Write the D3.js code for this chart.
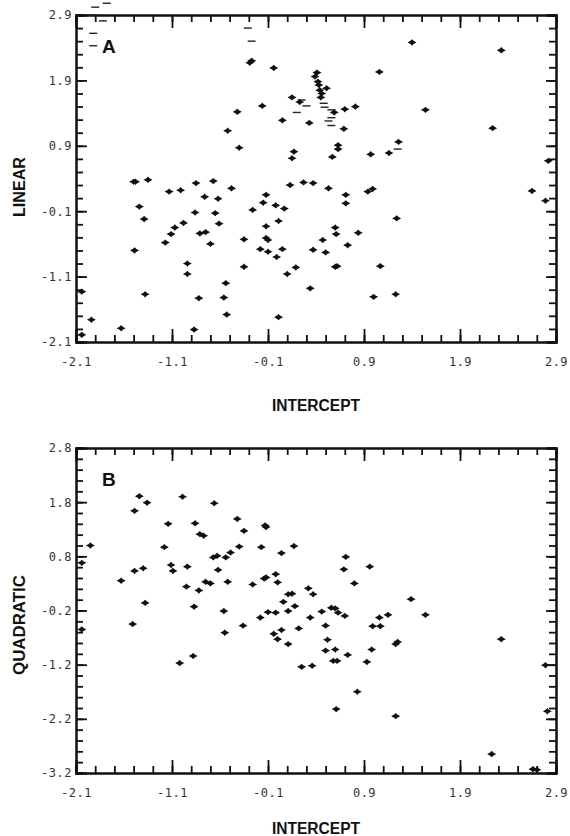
<!DOCTYPE html>
<html>
<head>
<meta charset="utf-8">
<script src="https://cdn.jsdelivr.net/npm/d3@7"></script>
<style>
  body { margin: 0; background: #fff; }
  .tick text { font-family: "DejaVu Sans Mono", monospace; font-size: 12px; fill: #333; letter-spacing: 0.5px; }
  .title { font-family: "Liberation Sans", Arial, sans-serif; font-weight: bold; font-size: 16px; fill: #111; }
</style>
</head>
<body>
<div id="chart"></div>
<script>
// tick labels
const xMajor = [-2.1, -1.1, -0.1, 0.9, 1.9, 2.9];
const yMajorA = [-2.1, -1.1, -0.1, 0.9, 1.9, 2.9];
const yMajorB = [-3.2, -2.2, -1.2, -0.2, 0.8, 1.8, 2.8];

// panel A: intercept vs linear
const pointsA = [
  [-0.27, 2.20], [-0.29, 2.17], [-0.04, 2.09], [-0.42, 1.42], [-0.16, 1.51], [-0.52, 1.13],
  [-0.40, 0.87], [0.05, 1.29], [1.40, 2.48], [2.33, 2.36], [1.06, 2.03], [0.41, 2.02],
  [0.39, 1.96], [0.42, 1.88], [0.43, 1.83], [0.44, 1.75], [0.46, 1.70], [0.45, 1.64],
  [0.51, 1.78], [0.15, 1.64], [0.23, 1.57], [0.33, 1.25], [0.59, 1.41], [0.70, 1.46],
  [0.81, 1.50], [1.54, 1.45], [0.69, 1.16], [2.24, 1.17], [0.63, 0.91], [0.63, 0.85],
  [0.17, 0.81], [0.15, 0.71], [0.57, 0.73], [0.97, 0.77], [1.16, 0.79], [1.26, 0.96],
  [2.82, 0.67], [-1.50, 0.35], [-1.48, 0.35], [-1.35, 0.38], [-1.44, -0.03], [-1.39, -0.22],
  [-1.49, -0.70], [-1.38, -1.37], [-2.04, -1.33], [-1.94, -1.76], [-2.04, -1.99], [-1.63, -1.89],
  [-1.13, 0.20], [-1.01, 0.22], [-0.85, 0.33], [-0.67, 0.36], [-0.76, 0.12], [-0.62, 0.09],
  [-0.48, 0.25], [-0.86, -0.12], [-0.65, -0.13], [-0.61, -0.29], [-0.98, -0.28], [-1.07, -0.35],
  [-1.11, -0.45], [-1.17, -0.58], [-0.81, -0.44], [-0.75, -0.42], [-0.70, -0.60], [-0.94, -0.90],
  [-0.94, -1.06], [-0.82, -1.43], [-0.87, -1.91], [-0.54, -1.20], [-0.56, -1.42], [-0.53, -1.68],
  [-0.35, -0.95], [-0.35, -0.53], [-0.26, -0.08], [-0.12, 0.15], [-0.15, 0.03], [-0.12, -0.33],
  [-0.12, -0.51], [-0.10, -0.54], [-0.18, -0.68], [-0.10, -0.72], [-0.02, -0.01], [0.07, -0.06],
  [0.01, -0.25], [0.05, -0.68], [-0.01, -0.80], [0.10, -1.06], [0.01, -1.72], [0.13, 0.30],
  [0.27, 0.34], [0.37, 0.33], [0.53, 0.25], [0.71, 0.15], [0.71, 0.02], [0.94, 0.20],
  [0.99, 0.24], [1.24, -0.21], [0.60, -0.35], [0.61, -0.45], [0.84, -0.43], [0.47, -0.54],
  [0.73, -0.62], [0.37, -0.69], [0.50, -0.73], [0.19, -0.96], [0.60, -0.95], [0.62, -0.94],
  [1.07, -0.94], [0.34, -1.28], [1.00, -1.41], [1.23, -1.37], [2.65, 0.21], [2.79, 0.06]
];
// overprinted / off-scale marks drawn as short dashes
const dashesA = [
  [-1.90, 3.02], [-1.78, 3.08], [-1.92, 2.90], [-1.82, 2.81], [-1.92, 2.62], [-1.92, 2.43],
  [-0.31, 2.70], [-0.27, 2.50], [0.25, 1.60], [0.30, 1.51], [0.20, 1.41], [0.48, 1.55],
  [0.49, 1.49], [0.56, 1.45], [0.56, 1.33], [0.53, 1.28], [0.56, 1.21], [1.25, 0.85]
];

// panel B: intercept vs quadratic
const pointsB = [
  [-2.04, 0.68], [-1.95, 1.00], [-1.49, 1.64], [-1.44, 1.91], [-1.36, 1.79], [-0.99, 1.90],
  [-0.66, 1.78], [-1.14, 1.40], [-0.86, 1.41], [-0.81, 1.21], [-0.77, 1.18], [-1.18, 0.97],
  [-0.42, 1.49], [-0.35, 1.27], [-0.13, 1.37], [-0.12, 1.34], [-0.40, 0.98], [-0.49, 0.87],
  [-0.54, 0.78], [-0.67, 0.78], [-0.63, 0.81], [-0.17, 0.97], [0.04, 0.86], [-1.11, 0.64],
  [-1.09, 0.53], [-0.94, 0.61], [-0.62, 0.55], [-1.49, 0.53], [-1.40, 0.58], [-1.63, 0.35],
  [-0.95, 0.24], [-0.82, 0.17], [-0.75, 0.33], [-0.70, 0.30], [-0.52, 0.33], [-0.26, 0.28],
  [-0.14, 0.39], [-0.12, 0.41], [-0.02, 0.47], [0.00, 0.32], [0.11, 0.10], [0.06, -0.04],
  [-1.38, -0.06], [-0.87, -0.13], [0.17, 0.99], [0.71, 0.79], [0.69, 0.56], [0.96, 0.61],
  [0.80, 0.30], [0.32, 0.21], [0.37, 0.10], [0.15, 0.11], [0.18, -0.12], [1.39, 0.01],
  [0.56, -0.15], [0.60, -0.16], [-0.56, -0.21], [-1.51, -0.45], [-2.04, -0.55], [-0.55, -0.61],
  [-0.36, -0.48], [-0.18, -0.33], [-0.10, -0.23], [-0.02, -0.24], [0.11, -0.21], [-0.04, -0.63],
  [0.00, -0.73], [0.04, -0.56], [0.11, -0.82], [-1.02, -1.17], [-0.88, -1.04], [0.34, -0.33],
  [0.22, -0.53], [0.46, -0.22], [0.63, -0.24], [0.70, -0.30], [0.50, -0.48], [0.52, -0.74],
  [0.50, -0.94], [0.60, -0.92], [0.58, -1.13], [0.62, -1.13], [0.73, -1.02], [0.25, -1.24],
  [0.36, -1.22], [0.83, -1.70], [0.61, -2.02], [0.93, -1.15], [0.98, -0.92], [0.99, -0.49],
  [1.07, -0.49], [1.06, -0.33], [1.15, -0.28], [1.25, -0.78], [1.23, -0.82], [1.54, -0.28],
  [1.23, -2.15], [2.33, -0.73], [2.79, -1.21], [2.81, -2.06], [2.23, -2.85], [2.66, -3.13],
  [2.70, -3.14]
];

// layout of the two frames
const width = 570, height = 836;
const frame = {left: 76, right: 556};
const panels = [
  {top: 15, bottom: 342, yDomain: [-2.1, 2.9], yMajor: yMajorA, points: pointsA, dashes: dashesA,
   letter: "A", letterY: 53, yTitle: "LINEAR", yTitleY: 187, yTitleLen: 60, xTitleY: 411},
  {top: 448, bottom: 773, yDomain: [-3.2, 2.8], yMajor: yMajorB, points: pointsB, dashes: [],
   letter: "B", letterY: 486, yTitle: "QUADRATIC", yTitleY: 625, yTitleLen: 100, xTitleY: 834}
];

const svg = d3.select("#chart")
  .append("svg")
  .attr("width", width)
  .attr("height", height);

// small four-point marker
const marker = "M-4.5,0L-1.6,-1.6L0,-3.2L1.6,-1.6L4.5,0L1.6,1.6L0,3.2L-1.6,1.6Z";

const fmt = d => d.toFixed(1);
const minorOf = (lo, hi) => d3.range(0, Math.round((hi - lo) / 0.2) + 1).map(i => +(lo + i * 0.2).toFixed(2));

panels.forEach(p => {
  const x = d3.scaleLinear().domain([-2.1, 2.9]).range([frame.left, frame.right]);
  const y = d3.scaleLinear().domain(p.yDomain).range([p.bottom, p.top]);
  const xMinor = minorOf(-2.1, 2.9);
  const yMinor = minorOf(p.yDomain[0], p.yDomain[1]);

  const g = svg.append("g");

  // minor ticks, all four sides, pointing inwards
  g.append("g").attr("transform", `translate(0,${p.bottom})`)
    .call(d3.axisBottom(x).tickValues(xMinor).tickSize(-7).tickFormat(""));
  g.append("g").attr("transform", `translate(0,${p.top})`)
    .call(d3.axisTop(x).tickValues(xMinor).tickSize(-7).tickFormat(""));
  g.append("g").attr("transform", `translate(${frame.left},0)`)
    .call(d3.axisLeft(y).tickValues(yMinor).tickSize(-7).tickFormat(""));
  g.append("g").attr("transform", `translate(${frame.right},0)`)
    .call(d3.axisRight(y).tickValues(yMinor).tickSize(-7).tickFormat(""));

  // major ticks with labels
  g.append("g").attr("transform", `translate(0,${p.bottom})`)
    .call(d3.axisBottom(x).tickValues(xMajor).tickSize(-13).tickPadding(15).tickFormat(fmt));
  g.append("g").attr("transform", `translate(0,${p.top})`)
    .call(d3.axisTop(x).tickValues(xMajor).tickSize(-13).tickFormat(""));
  g.append("g").attr("transform", `translate(${frame.left},0)`)
    .call(d3.axisLeft(y).tickValues(p.yMajor).tickSize(-11).tickPadding(4).tickFormat(fmt));
  g.append("g").attr("transform", `translate(${frame.right},0)`)
    .call(d3.axisRight(y).tickValues(p.yMajor).tickSize(-10).tickFormat(""));

  g.selectAll(".domain").attr("stroke", "#111").attr("stroke-width", 2);
  g.selectAll(".tick line").attr("stroke", "#111").attr("stroke-width", 1.8);

  // dashes
  g.append("g").selectAll("line")
    .data(p.dashes)
    .enter()
    .append("line")
    .attr("x1", d => x(d[0]) - 4)
    .attr("x2", d => x(d[0]) + 4)
    .attr("y1", d => y(d[1]))
    .attr("y2", d => y(d[1]))
    .attr("stroke", "#222")
    .attr("stroke-width", 1.4);

  // points
  g.append("g").selectAll("path")
    .data(p.points)
    .enter()
    .append("path")
    .attr("d", marker)
    .attr("transform", d => `translate(${x(d[0])},${y(d[1])})`)
    .attr("fill", "#111");

  // panel letter
  g.append("text")
    .attr("class", "title")
    .attr("x", 102)
    .attr("y", p.letterY)
    .style("font-size", "19px")
    .text(p.letter);

  // axis titles
  g.append("text")
    .attr("class", "title")
    .attr("x", (frame.left + frame.right) / 2)
    .attr("y", p.xTitleY)
    .attr("text-anchor", "middle")
    .attr("textLength", 88)
    .attr("lengthAdjust", "spacingAndGlyphs")
    .text("INTERCEPT");

  g.append("text")
    .attr("class", "title")
    .attr("transform", `translate(25,${p.yTitleY}) rotate(-90)`)
    .attr("text-anchor", "middle")
    .attr("textLength", p.yTitleLen)
    .attr("lengthAdjust", "spacingAndGlyphs")
    .text(p.yTitle);
});
</script>
</body>
</html>
